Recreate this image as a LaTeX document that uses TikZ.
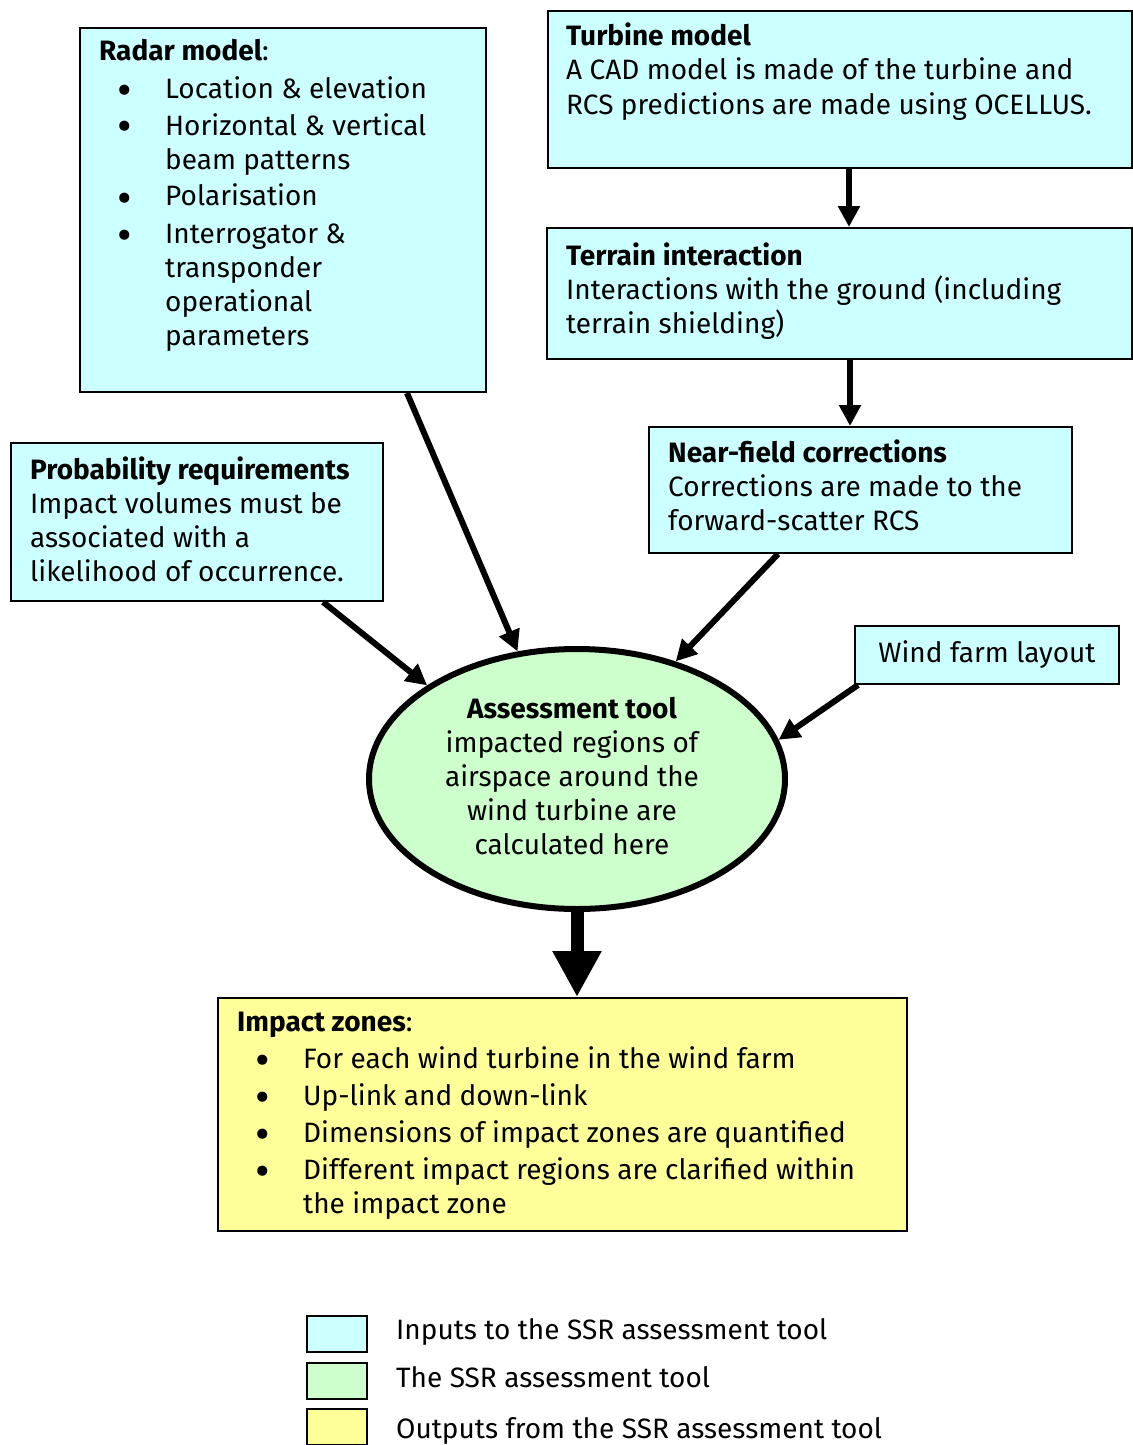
\documentclass[tikz,border=0pt]{standalone}
\usepackage{fontspec}
\setmainfont{Fira Sans}
\usetikzlibrary{arrows.meta,shapes.geometric}
\definecolor{incol}{HTML}{CCFFFF}
\definecolor{toolcol}{HTML}{CCFFCC}
\definecolor{outcol}{HTML}{FFFF99}
\newcommand\bitem[1]{\par\vspace{3pt}\hangindent=66pt\hangafter=1\noindent\makebox[66pt][l]{\hspace{18pt}\smash{\raisebox{-7pt}{\scalebox{1.6}{\textbullet}}}}#1}
\newcommand\tbox[1]{\parbox[t]{700pt}{\raggedright #1}}
\begin{document}
\begin{tikzpicture}[x=1pt,y=-1pt,
 inbox/.style={draw=black,line width=2pt,fill=incol,inner sep=0pt,anchor=north west},
 outbox/.style={draw=black,line width=2pt,fill=outcol,inner sep=0pt,anchor=north west},
 legbox/.style={draw=black,line width=2pt,inner sep=0pt,anchor=north west,minimum width=60pt,minimum height=36pt},
 txt/.style={inner sep=0pt,anchor=base west,font=\fontsize{28}{34}\selectfont},
 arr/.style={line width=6pt,-{Triangle[width=21pt,length=21pt]}},
 bigarr/.style={line width=13pt,-{Triangle[width=46pt,length=46pt]}},
]
\useasboundingbox (0,0) rectangle (1132,1445);
\fill[white] (0,0) rectangle (1132,1445);

% boxes
\node[inbox,minimum width=406pt,minimum height=364pt] (radar) at (79,27) {};
\node[inbox,minimum width=584pt,minimum height=157pt] (turbine) at (547,10) {};
\node[inbox,minimum width=585pt,minimum height=131pt] (terrain) at (546,227) {};
\node[inbox,minimum width=423pt,minimum height=126pt] (near) at (648,426) {};
\node[inbox,minimum width=372pt,minimum height=158pt] (prob) at (10,442) {};
\node[inbox,minimum width=264pt,minimum height=58pt,font=\fontsize{28}{34}\selectfont] (wind) at (854,625) {Wind farm layout};
\node[ellipse,draw=black,line width=6pt,fill=toolcol,minimum width=416pt,minimum height=260pt,inner sep=0pt] (tool) at (577,779) {};
\node[outbox,minimum width=689pt,minimum height=233pt] (impact) at (217,997) {};

% texts
\node[txt] (radartxt) at (99,61) {\tbox{\textbf{Radar model}:%
\bitem{Location \& elevation}%
\bitem{Horizontal \& vertical\newline beam patterns}%
\bitem{Polarisation}%
\bitem{Interrogator \&\newline transponder\newline operational\newline parameters}}};
\node[txt] (turbinetxt) at (566,46) {\tbox{\textbf{Turbine model}\\A CAD model is made of the turbine and\\RCS predictions are made using OCELLUS.}};
\node[txt] (terraintxt) at (566,265) {\tbox{\textbf{Terrain interaction}\\Interactions with the ground (including\\terrain shielding)}};
\node[txt] (neartxt) at (668,462) {\tbox{\textbf{Near-field corrections}\\Corrections are made to the\\forward-scatter RCS}};
\node[txt] (probtxt) at (30,479) {\tbox{\textbf{Probability requirements}\\Impact volumes must be\\associated with a\\likelihood of occurrence.}};
\node[txt,anchor=base] (tooltxt) at (572,718) {\parbox[t]{400pt}{\centering \textbf{Assessment tool}\\impacted regions of\\airspace around the\\wind turbine are\\calculated here}};
\node[txt] (impacttxt) at (237,1031) {\tbox{\textbf{Impact zones}:%
\bitem{For each wind turbine in the wind farm}%
\bitem{Up-link and down-link}%
\bitem{Dimensions of impact zones are quantified}%
\bitem{Different impact regions are clarified within\newline the impact zone}}};

% legend
\node[legbox,fill=incol] (leg1) at (306,1315) {};
\node[legbox,fill=toolcol] (leg2) at (306,1362) {};
\node[legbox,fill=outcol] (leg3) at (306,1408) {};
\node[txt] (leg1txt) at (396,1339) {Inputs to the SSR assessment tool};
\node[txt] (leg2txt) at (396,1387) {The SSR assessment tool};
\node[txt] (leg3txt) at (396,1438) {Outputs from the SSR assessment tool};

% connectors
\coordinate (t1) at ([xshift=302pt]turbine.south west);
\coordinate (t2) at ([xshift=304pt]terrain.south west);
\draw[arr] (t1) -- (t1 |- terrain.north);
\draw[arr] (t2) -- (t2 |- near.north);
\draw[arr] ([xshift=328pt]radar.south west) -- (tool.115);
\draw[arr] ([xshift=313pt]prob.south west) -- (tool.148);
\draw[arr] ([xshift=130pt]near.south west) -- (tool.50);
\draw[arr] ([xshift=4pt]wind.south west) -- (tool.11);
\draw[bigarr] (tool.south) -- (tool.south |- impact.north);
\end{tikzpicture}
\end{document}
